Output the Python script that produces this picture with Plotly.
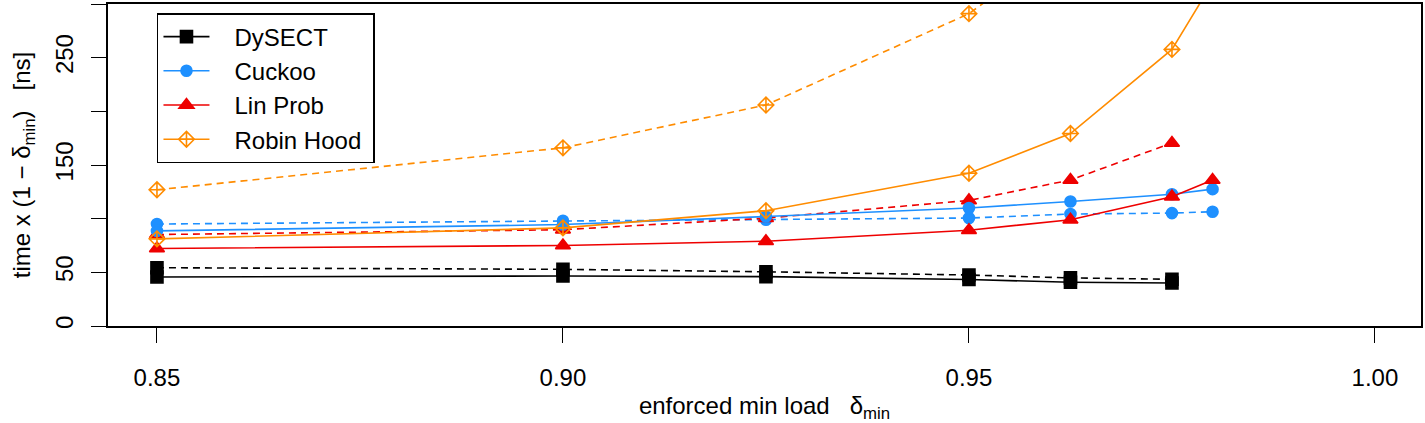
import plotly.graph_objects as go

# x positions (enforced min load)
x_dysect = [0.85, 0.90, 0.925, 0.95, 0.9625, 0.975]
x_cuckoo = [0.85, 0.90, 0.925, 0.95, 0.9625, 0.975, 0.98]
x_linprob_solid = [0.85, 0.90, 0.925, 0.95, 0.9625, 0.975, 0.98]
x_linprob_dash = [0.85, 0.90, 0.925, 0.95, 0.9625, 0.975]
x_robin_solid = [0.85, 0.90, 0.925, 0.95, 0.9625, 0.975, 0.98]
x_robin_dash = [0.85, 0.90, 0.925, 0.95, 0.9625]

# values: time x (1 - delta_min) [ns]
dysect_solid = [45.7, 46.6, 46.0, 43.3, 40.7, 40.1]
dysect_dash = [54.3, 52.8, 50.5, 47.5, 44.8, 43.5]
cuckoo_solid = [88.6, 94.5, 102.0, 109.9, 116.0, 122.8, 127.5]
cuckoo_dash = [95.0, 98.1, 99.0, 100.6, 104.3, 105.2, 106.5]
linprob_solid = [72.2, 75.0, 79.0, 89.2, 99.0, 120.5, 136.0]
linprob_dash = [85.2, 89.7, 100.5, 117.0, 136.0, 170.5]
robin_solid = [81.2, 91.4, 107.4, 142.3, 179.3, 257.7, 320.0]
robin_dash = [126.9, 166.0, 205.9, 291.0, 360.0]

x_ticks = [0.85, 0.90, 0.95, 1.00]
x_tick_labels = ["0.85", "0.90", "0.95", "1.00"]
y_ticks = [0, 50, 150, 250]
y_tick_labels = ["0", "50", "150", "250"]
y_unlabeled_ticks = [100, 200, 300]

BLACK = "#000000"
BLUE = "#1E90FF"
RED = "#EE0000"
ORANGE = "#FF8C00"
FONT = "Liberation Sans, Arial, sans-serif"
PAD = "\u00a0\u00a0\u00a0"

series = [
    ("DySECT", x_dysect, dysect_solid, dysect_dash, x_dysect, BLACK, "square", 12),
    ("Cuckoo", x_cuckoo, cuckoo_solid, cuckoo_dash, x_cuckoo, BLUE, "circle", 11),
    ("Lin Prob", x_linprob_solid, linprob_solid, linprob_dash, x_linprob_dash, RED, "triangle-up", 13),
    ("Robin Hood", x_robin_solid, robin_solid, robin_dash, x_robin_dash, ORANGE, "diamond-cross-open", 12),
]

fig = go.Figure()
for name, xs, ys, yd, xd, color, sym, size in series:
    fig.add_trace(go.Scatter(
        x=xd, y=yd, mode="lines+markers", name=name, showlegend=False,
        line=dict(color=color, width=1.6, dash="7px,5px"),
        marker=dict(symbol=sym, size=size, color=color, line=dict(color=color, width=1.6)),
    ))
for name, xs, ys, yd, xd, color, sym, size in series:
    fig.add_trace(go.Scatter(
        x=xs, y=ys, mode="lines+markers", name=PAD + name + "\u00a0", showlegend=True,
        line=dict(color=color, width=1.6),
        marker=dict(symbol=sym, size=size, color=color, line=dict(color=color, width=1.6)),
    ))

fig.update_layout(
    width=1425, height=423,
    margin=dict(l=108, r=3, t=2, b=97),
    paper_bgcolor="white", plot_bgcolor="white",
    font=dict(family=FONT, size=24, color="black"),
    showlegend=True,
    legend=dict(
        x=0.0373, y=0.972, xanchor="left", yanchor="top",
        bgcolor="white", bordercolor="black", borderwidth=1.5,
        font=dict(size=24), itemwidth=46, tracegroupgap=0,
    ),
    xaxis=dict(
        range=[0.84397, 1.00567], tickvals=x_ticks, ticktext=x_tick_labels,
        showgrid=False, zeroline=False, showline=True, mirror=True,
        linecolor="black", linewidth=1.5,
        ticks="outside", ticklen=15, tickwidth=1, tickcolor="black",
        ticklabelstandoff=14,
        title=dict(text="enforced min load\u00a0\u00a0\u00a0δ<sub>min</sub>", standoff=10,
                   font=dict(size=24)),
    ),
    yaxis=dict(
        range=[0, 300], tickvals=y_ticks, ticktext=y_tick_labels,
        showgrid=False, zeroline=False, showline=True, mirror=True,
        linecolor="black", linewidth=1.5,
        ticks="outside", ticklen=15, tickwidth=1, tickcolor="black",
        minor=dict(tickvals=y_unlabeled_ticks, ticks="outside", ticklen=15,
                   tickwidth=1, tickcolor="black", showgrid=False),
        tickangle=-90, ticklabelstandoff=9,
        title=dict(text="time x (1 − δ<sub>min</sub>)\u00a0\u00a0\u00a0[ns]", standoff=13,
                   font=dict(size=24)),
    ),
)

fig.write_html("out.html")
